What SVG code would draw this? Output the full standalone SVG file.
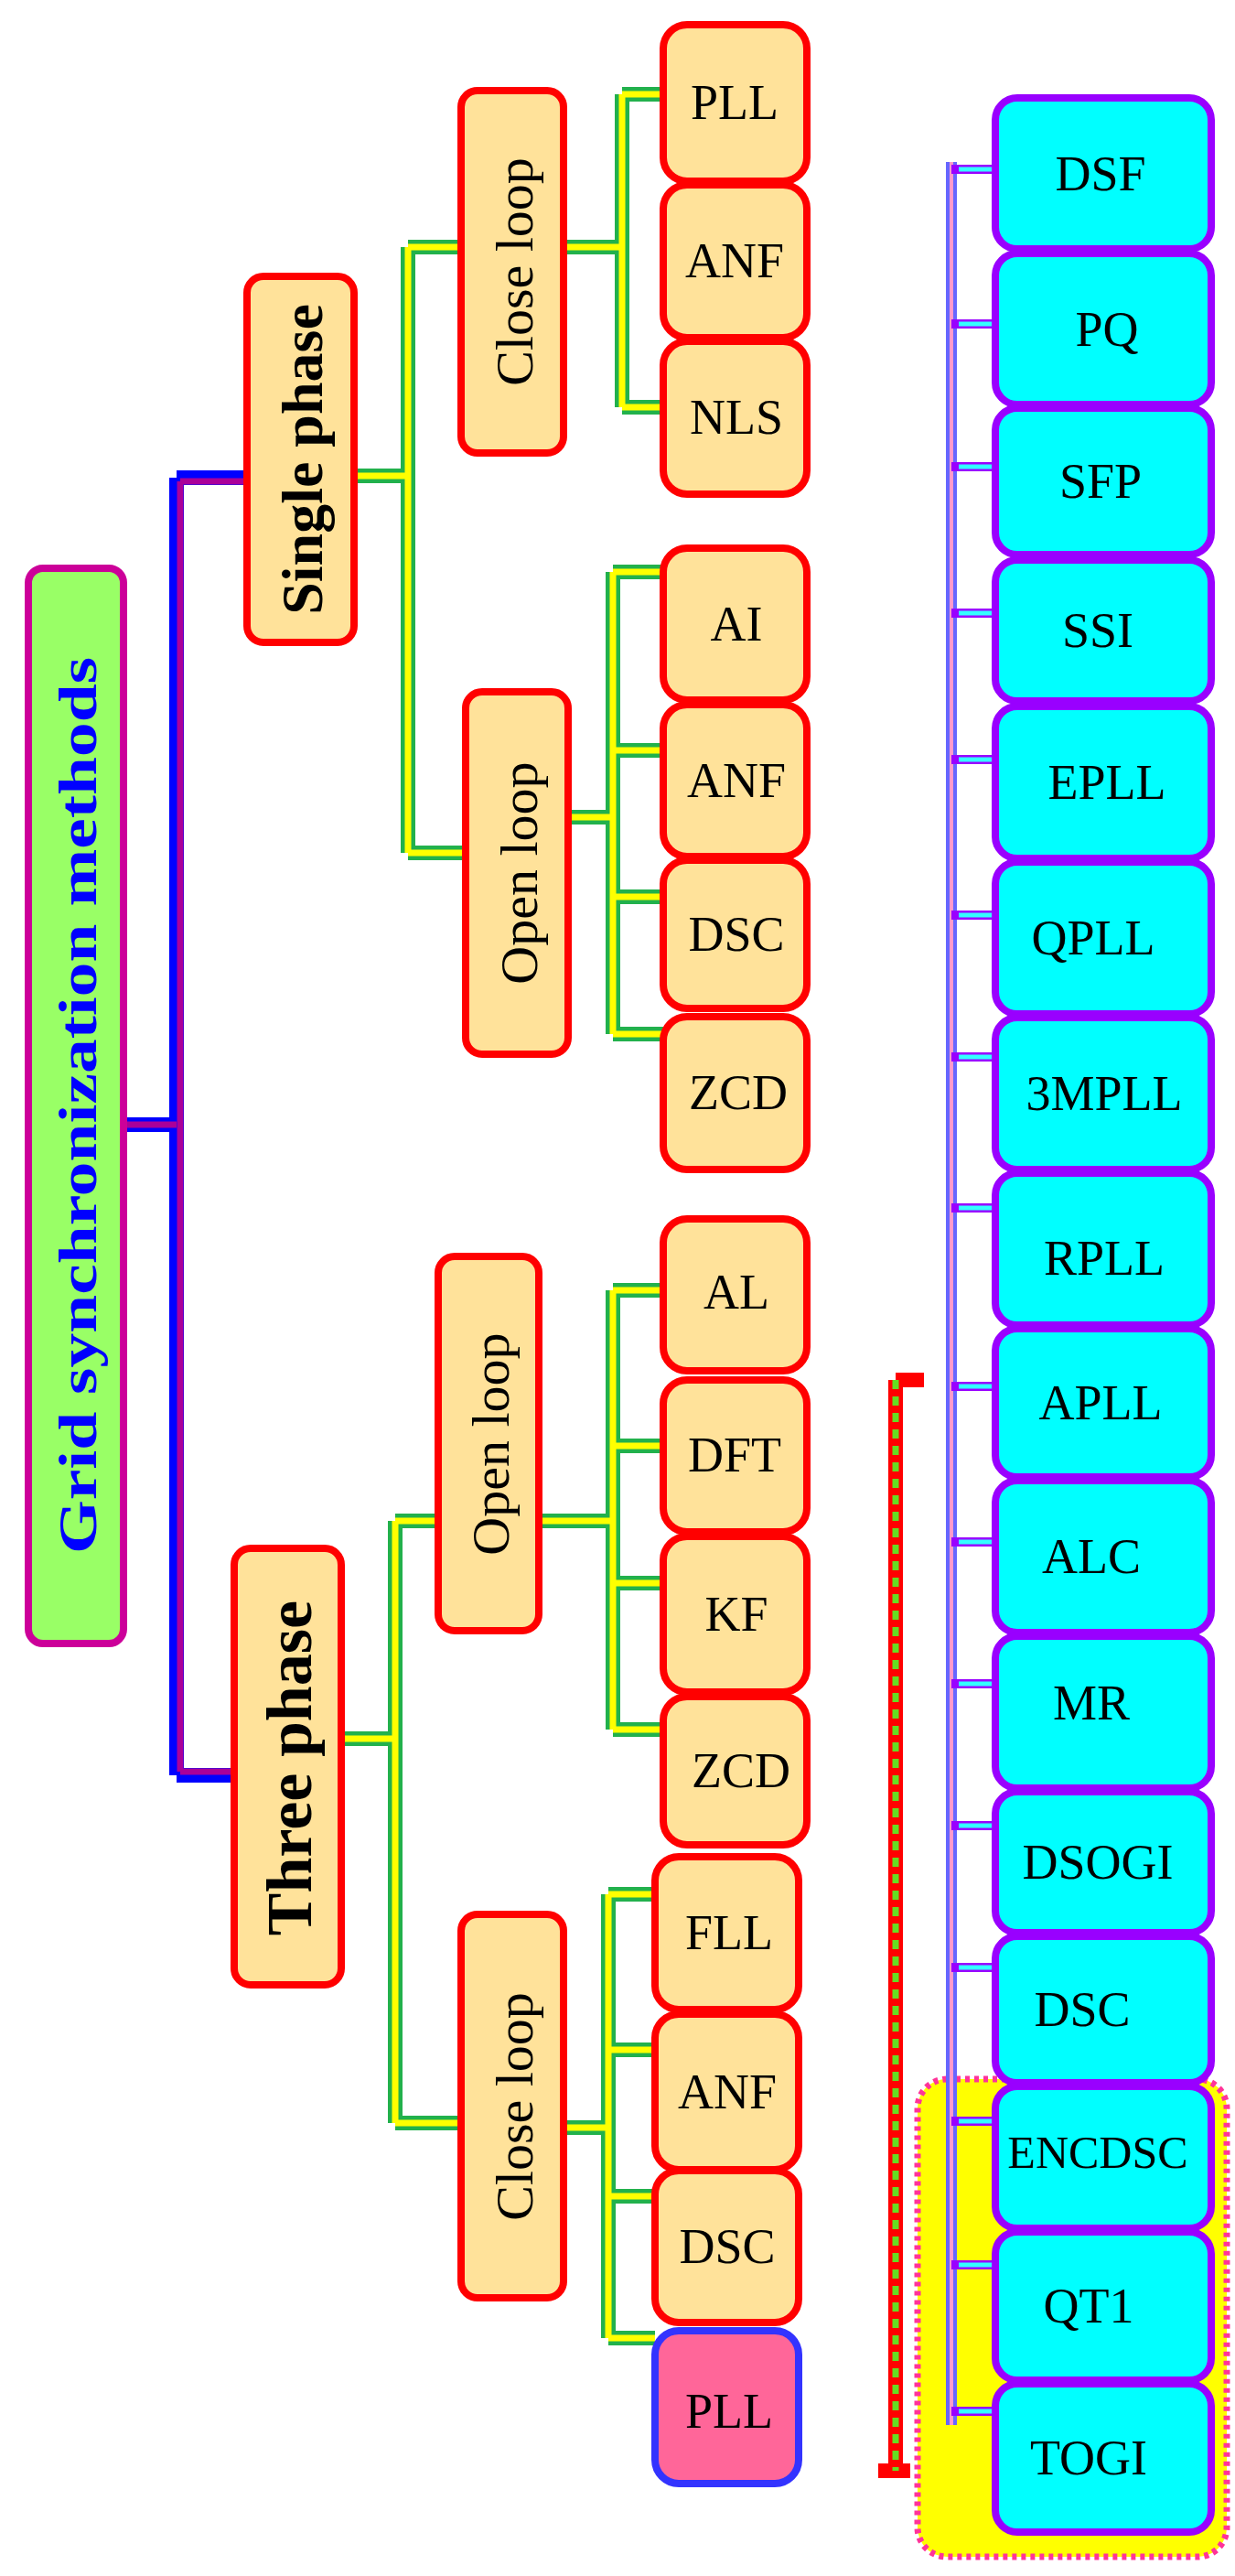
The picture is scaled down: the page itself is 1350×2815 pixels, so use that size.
<svg xmlns="http://www.w3.org/2000/svg" width="1350" height="2815" viewBox="0 0 1350 2815">
<style>
.lf{fill:#ffe29a;stroke:#ff0000;stroke-width:8}
.cy{fill:#00ffff;stroke:#9900ff;stroke-width:8}
.t{font-family:"Liberation Serif",serif;font-size:54px;fill:#000;text-anchor:middle;dominant-baseline:central}
.r{font-size:58px}
.b{font-weight:bold}
.go{stroke:#22b14c;stroke-width:16;fill:none}
.gi{stroke:#ffff00;stroke-width:7;fill:none}
.ps{stroke:#9900ff;stroke-width:10;fill:none}
.pi{stroke:#33ffff;stroke-width:5;fill:none}
</style>
<rect x="1003" y="2272" width="338" height="522" rx="32" fill="#ffff00" stroke="#ff3399" stroke-width="7" stroke-dasharray="5 5"/>
<g id="connectors">
<path d="M135 1229H193M193 522V1940M193 522H270M193 1940H252" style="stroke:#0000ff;stroke-width:16;fill:none"/>
<path d="M135 1229H193M197 526V1936M197 526H270M197 1936H252" style="stroke:#aa0099;stroke-width:7;fill:none"/>
<path class="go" d="M387 520H446M446 270V932M446 270H504M446 932H509M616 270H680M680 103V445M680 103H725M680 445H725M621 893H670M670 625V1130M670 625H725M670 820H725M670 980H725M670 1130H725M373 1900H432M432 1662V2320M432 1662H479M432 2320H504M589 1662H670M670 1410V1890M670 1410H725M670 1580H725M670 1730H725M670 1890H725M616 2325H665M665 2070V2555M665 2070H716M665 2240H716M665 2400H716M665 2555H716"/>
<path class="gi" d="M387 520H446M446 270V932M446 270H504M446 932H509M616 270H680M680 103V445M680 103H725M680 445H725M621 893H670M670 625V1130M670 625H725M670 820H725M670 980H725M670 1130H725M373 1900H432M432 1662V2320M432 1662H479M432 2320H504M589 1662H670M670 1410V1890M670 1410H725M670 1580H725M670 1730H725M670 1890H725M616 2325H665M665 2070V2555M665 2070H716M665 2240H716M665 2400H716M665 2555H716"/>
<path d="M1040 177V2650" style="stroke:#6666ff;stroke-width:12;fill:none"/>
<path d="M1040 177V2650" style="stroke:#ff99cc;stroke-width:4;fill:none"/>
<path class="ps" d="M1040 185H1085M1040 354H1085M1040 510H1085M1040 670H1085M1040 830H1085M1040 1000H1085M1040 1155H1085M1040 1320H1085M1040 1515H1085M1040 1685H1085M1040 1840H1085M1040 1995H1085M1040 2150H1085M1040 2318H1085M1040 2475H1085M1040 2635H1085"/>
<path class="pi" d="M1048 185H1085M1048 354H1085M1048 510H1085M1048 670H1085M1048 830H1085M1048 1000H1085M1048 1155H1085M1048 1320H1085M1048 1515H1085M1048 1685H1085M1048 1840H1085M1048 1995H1085M1048 2150H1085M1048 2318H1085M1048 2475H1085M1048 2635H1085"/>
<path d="M979 1508V2700M960 2700H995M979 1508H1010" style="stroke:#ff0000;stroke-width:16;fill:none"/>
<path d="M979 1508V2700" style="stroke:#66dd22;stroke-width:7;stroke-dasharray:10 8;fill:none"/>
<path d="M1210 1205V1282" style="stroke:#ff0000;stroke-width:2"/>
</g>
<g id="root"><rect x="31" y="621" width="104" height="1175" rx="16" fill="#99ff66" stroke="#cc0099" stroke-width="8"/><text class="t b" transform="translate(85 1208) rotate(-90)" style="fill:#0000ff;font-size:60px" textLength="980" lengthAdjust="spacingAndGlyphs">Grid synchronization methods</text></g>
<g id="single"><rect class="lf" x="270" y="302" width="117" height="400" rx="18"/><text class="t b" transform="translate(330 502) rotate(-90)" style="font-size:64px">Single phase</text></g>
<g id="three"><rect class="lf" x="256" y="1692" width="117" height="477" rx="18"/><text class="t b" transform="translate(316 1932) rotate(-90)" style="font-size:70px">Three phase</text></g>
<g id="sp-close"><rect class="lf" x="504" y="99" width="112" height="396" rx="18"/><text class="t r" transform="translate(562 297) rotate(-90)">Close loop</text></g>
<g id="sp-open"><rect class="lf" x="509" y="756" width="112" height="396" rx="18"/><text class="t r" transform="translate(567 954) rotate(-90)">Open loop</text></g>
<g id="tp-open"><rect class="lf" x="479" y="1373" width="110" height="409" rx="18"/><text class="t r" transform="translate(536 1578) rotate(-90)">Open loop</text></g>
<g id="tp-close"><rect class="lf" x="504" y="2092" width="112" height="419" rx="18"/><text class="t r" transform="translate(562 2302) rotate(-90)">Close loop</text></g>
<g id="s1"><rect class="lf" x="725" y="27" width="157" height="171" rx="26"/><text class="t" x="803" y="112">PLL</text></g>
<g id="s2"><rect class="lf" x="725" y="202" width="157" height="167" rx="26"/><text class="t" x="803" y="285">ANF</text></g>
<g id="s3"><rect class="lf" x="725" y="373" width="157" height="167" rx="26"/><text class="t" x="805" y="456">NLS</text></g>
<g id="s4"><rect class="lf" x="725" y="599" width="157" height="166" rx="26"/><text class="t" x="805" y="682">AI</text></g>
<g id="s5"><rect class="lf" x="725" y="770" width="157" height="166" rx="26"/><text class="t" x="805" y="853">ANF</text></g>
<g id="s6"><rect class="lf" x="725" y="940" width="157" height="162" rx="26"/><text class="t" x="805" y="1021">DSC</text></g>
<g id="s7"><rect class="lf" x="725" y="1111" width="157" height="167" rx="26"/><text class="t" x="807" y="1194">ZCD</text></g>
<g id="t1"><rect class="lf" x="725" y="1332" width="157" height="166" rx="26"/><text class="t" x="805" y="1412">AL</text></g>
<g id="t2"><rect class="lf" x="725" y="1508" width="157" height="166" rx="26"/><text class="t" x="803" y="1590">DFT</text></g>
<g id="t3"><rect class="lf" x="725" y="1679" width="157" height="170" rx="26"/><text class="t" x="805" y="1764">KF</text></g>
<g id="t4"><rect class="lf" x="725" y="1854" width="157" height="162" rx="26"/><text class="t" x="810" y="1935">ZCD</text></g>
<g id="t5"><rect class="lf" x="716" y="2029" width="157" height="167" rx="26"/><text class="t" x="797" y="2112">FLL</text></g>
<g id="t6"><rect class="lf" x="716" y="2201" width="157" height="170" rx="26"/><text class="t" x="795" y="2286">ANF</text></g>
<g id="t7"><rect class="lf" x="716" y="2372" width="157" height="166" rx="26"/><text class="t" x="795" y="2455">DSC</text></g>
<g id="t8"><rect x="716" y="2547" width="157" height="167" rx="26" fill="#ff6699" stroke="#3333ff" stroke-width="8"/><text class="t" x="797" y="2635">PLL</text></g>
<g id="c-dsf"><rect class="cy" x="1088" y="107" width="236" height="165" rx="24"/><text class="t" x="1203" y="190">DSF</text></g>
<g id="c-pq"><rect class="cy" x="1088" y="277" width="236" height="165" rx="24"/><text class="t" x="1210" y="360">PQ</text></g>
<g id="c-sfp"><rect class="cy" x="1088" y="446" width="236" height="160" rx="24"/><text class="t" x="1203" y="526">SFP</text></g>
<g id="c-ssi"><rect class="cy" x="1088" y="612" width="236" height="154" rx="24"/><text class="t" x="1200" y="689">SSI</text></g>
<g id="c-epll"><rect class="cy" x="1088" y="772" width="236" height="166" rx="24"/><text class="t" x="1210" y="855">EPLL</text></g>
<g id="c-qpll"><rect class="cy" x="1088" y="942" width="236" height="166" rx="24"/><text class="t" x="1195" y="1025">QPLL</text></g>
<g id="c-3mpll"><rect class="cy" x="1088" y="1112" width="236" height="166" rx="24"/><text class="t" x="1207" y="1195">3MPLL</text></g>
<g id="c-rpll"><rect class="cy" x="1088" y="1282" width="236" height="166" rx="24"/><text class="t" x="1207" y="1375">RPLL</text></g>
<g id="c-apll"><rect class="cy" x="1088" y="1452" width="236" height="162" rx="24"/><text class="t" x="1203" y="1533">APLL</text></g>
<g id="c-alc"><rect class="cy" x="1088" y="1618" width="236" height="166" rx="24"/><text class="t" x="1193" y="1701">ALC</text></g>
<g id="c-mr"><rect class="cy" x="1088" y="1788" width="236" height="166" rx="24"/><text class="t" x="1193" y="1861">MR</text></g>
<g id="c-dsogi"><rect class="cy" x="1088" y="1958" width="236" height="154" rx="24"/><text class="t" x="1200" y="2035">DSOGI</text></g>
<g id="c-dsc"><rect class="cy" x="1088" y="2116" width="236" height="160" rx="24"/><text class="t" x="1183" y="2196">DSC</text></g>
<g id="c-encdsc"><rect class="cy" x="1088" y="2280" width="236" height="155" rx="24"/><text class="t" x="1200" y="2352" style="font-size:50px">ENCDSC</text></g>
<g id="c-qt1"><rect class="cy" x="1088" y="2439" width="236" height="162" rx="24"/><text class="t" x="1190" y="2520">QT1</text></g>
<g id="c-togi"><rect class="cy" x="1088" y="2605" width="236" height="162" rx="24"/><text class="t" x="1190" y="2686">TOGI</text></g>
</svg>
